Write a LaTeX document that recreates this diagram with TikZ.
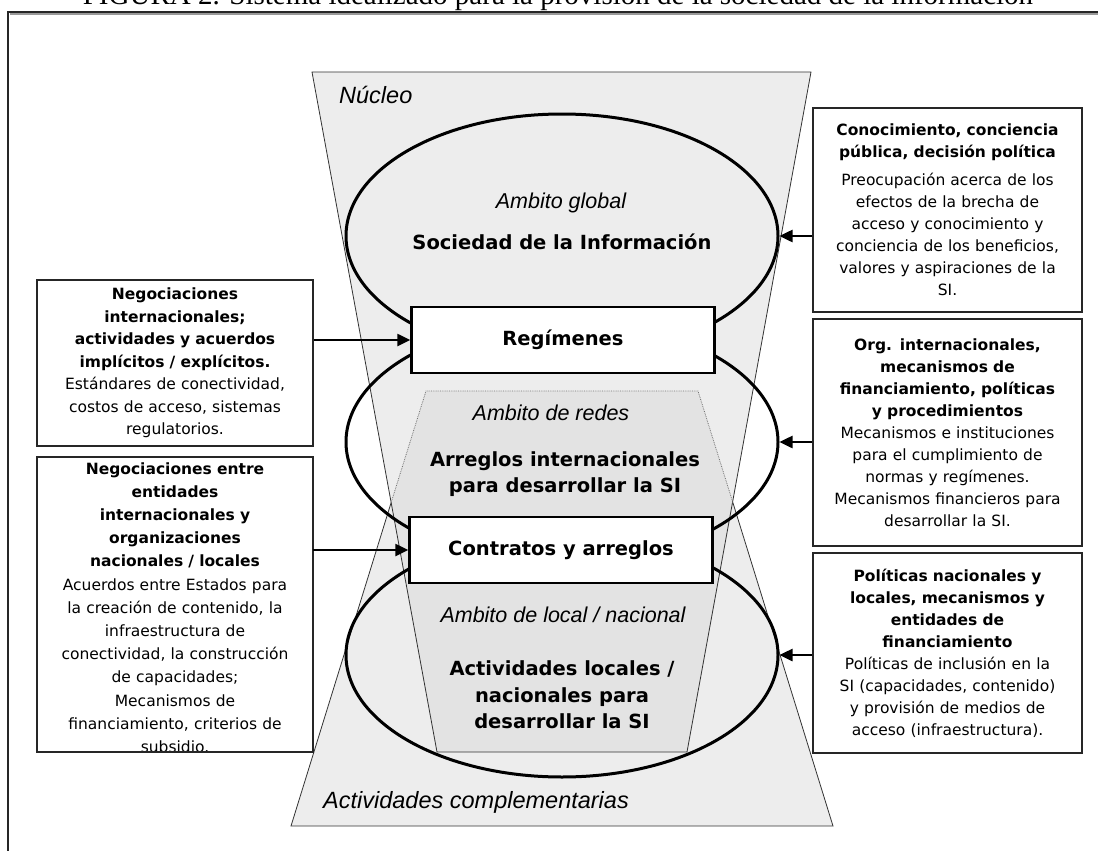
\documentclass[tikz,border=0pt]{standalone}
\usepackage{fontspec}
\setmainfont{DejaVu Sans}
\newfontfamily\zonefont{Liberation Sans}
\newfontfamily\titlefont{Liberation Serif}
\usetikzlibrary{shapes.geometric,arrows.meta}

\tikzset{
  zonefill/.style={fill=black!7},
  corefill/.style={fill=black!11},
  zoneline/.style={draw=black!80, line width=0.8pt},
  zonelabel/.style={font=\zonefont\itshape\fontsize{23.5}{26}\selectfont, inner sep=0pt},
  ambito/.style={font=\zonefont\itshape\fontsize{21.5}{24}\selectfont, inner sep=0pt},
  central/.style={font=\bfseries\fontsize{19.5}{26.5}\selectfont, align=center, inner sep=0pt},
  sidebox/.style={draw=black!85, line width=1.8pt, fill=white, inner sep=0pt,
    text width=#1, align=center, font=\fontsize{15.5}{22}\selectfont},
  feed/.style={-{Triangle[length=13pt,width=12pt]}, line width=2.5pt},
}

\begin{document}
\begin{tikzpicture}[x=1pt, y=-1pt]
  \useasboundingbox (0,0) rectangle (1098,851);

  % marco y titulo
  \draw[black!40, line width=1.5pt] (9.5,14) -- (1110,14);
  \draw[black!85, line width=1.2pt] (8,880) -- (8,12) -- (1110,12);
  \node (title) [anchor=base, inner sep=0pt, font=\titlefont\fontsize{29}{29}\selectfont] at (558,4.5)
    {FIGURA 2. Sistema idealizado para la provisión de la sociedad de la información};

  % zonas
  \fill[zonefill] (312,72) -- (811,72) -- (687,752) -- (437,752) -- cycle;
  \fill[zonefill] (426,391) -- (698,391) -- (833,826) -- (291,826) -- cycle;
  \fill[corefill] (426,391) -- (698,391) -- (733,503) -- (687,752) -- (437,752) -- (391,503) -- cycle;
  \draw[zoneline] (312,72) -- (811,72) -- (687,752) -- (437,752) -- cycle;
  \draw[zoneline] (391,503) -- (291,826) -- (833,826) -- (733,503);
  \draw[zoneline, draw=black!55, densely dotted] (391,503) -- (426,391) -- (698,391) -- (733,503);

  % ambitos
  \begin{scope}[every node/.style={ellipse, draw, line width=3pt, minimum width=432pt,
                                   minimum height=244pt, inner sep=0pt}]
    \node (E1) at (562,236) {};
    \node (E2) at (562,442) {};
    \node (E3) at (562,655) {};
  \end{scope}

  \begin{scope}[every node/.style={draw, fill=white, line width=2.5pt, minimum width=303pt,
                                   minimum height=66pt, font=\bfseries\fontsize{19.5}{26}\selectfont}]
    \node (Reg) at (563,340) {Regímenes};
    \node (Con) at (561,550) {Contratos y arreglos};
  \end{scope}

  \node (nuc) [zonelabel, anchor=west] at (339,95) {Núcleo};
  \node (compl) [zonelabel, anchor=west] at (323,802) {Actividades complementarias};
  \node (glob) [ambito] at (561,203) {Ambito global};
  \node (soc) [central] at (562,242) {Sociedad de la Información};
  \node (red) [ambito] at (551,413) {Ambito de redes};
  \node (arr) [central] at (565,474) {Arreglos internacionales\\para desarrollar la SI};
  \node (loc) [ambito] at (563,615) {Ambito de local / nacional};
  \node (act) [central] at (562,695) {Actividades locales /\\nacionales para\\desarrollar la SI};

  % cajas laterales
  \node (L1) [sidebox=270pt, font=\fontsize{15.5}{22.5}\selectfont, minimum width=276pt,
              minimum height=166pt] at (175,363)
    {\textbf{Negociaciones\\ internacionales;\\ actividades y acuerdos\\ implícitos / explícitos.}\\
     Estándares de conectividad,\\ costos de acceso, sistemas\\ regulatorios.};

  \node (L2) [fill=white, inner sep=0pt, minimum width=276pt, minimum height=295pt] at (175,604.5) {};
  \begin{scope}
    \clip (L2.north west) rectangle (L2.south east);
    \node (L2t) [sidebox=270pt, draw=none, fill=none, anchor=north,
                 font=\fontsize{15.5}{23.2}\selectfont] at (175,461.5)
      {\textbf{Negociaciones entre\\ entidades\\ internacionales y\\ organizaciones\\ nacionales / locales}\\
       Acuerdos entre Estados para\\ la creación de contenido, la\\ infraestructura de\\
       conectividad, la construcción\\ de capacidades;\\ Mecanismos de\\
       financiamiento, criterios de\\ subsidio.};
  \end{scope}
  \draw[draw=black!85, line width=1.8pt] (L2.north west) rectangle (L2.south east);

  \node (R1) [sidebox=262pt, minimum width=269pt, minimum height=204pt] at (947.5,210)
    {\textbf{Conocimiento, conciencia\\ pública, decisión política}\\[6pt]
     Preocupación acerca de los\\ efectos de la brecha de\\ acceso y conocimiento y\\
     conciencia de los beneficios,\\ valores y aspiraciones de la\\ SI.};
  \node (R2) [sidebox=262pt, minimum width=269pt, minimum height=227pt] at (947.5,432.5)
    {\textbf{Org. internacionales,\\ mecanismos de\\ financiamiento, políticas\\ y procedimientos}\\
     Mecanismos e instituciones\\ para el cumplimiento de\\ normas y regímenes.\\
     Mecanismos financieros para\\ desarrollar la SI.};
  \node (R3) [sidebox=262pt, minimum width=269pt, minimum height=200pt] at (947.5,653)
    {\textbf{Políticas nacionales y\\ locales, mecanismos y\\ entidades de\\ financiamiento}\\
     Políticas de inclusión en la\\ SI (capacidades, contenido)\\ y provisión de medios de\\
     acceso (infraestructura).};

  % flechas
  \draw[feed] (L1.east |- Reg.west) -- (Reg.west);
  \draw[feed] (L2.east |- Con.west) -- (Con.west);
  \draw[feed] (R1.west |- E1.east) -- (E1.east);
  \draw[feed] (R2.west |- E2.east) -- (E2.east);
  \draw[feed] (R3.west |- E3.east) -- (E3.east);
\end{tikzpicture}
\end{document}
